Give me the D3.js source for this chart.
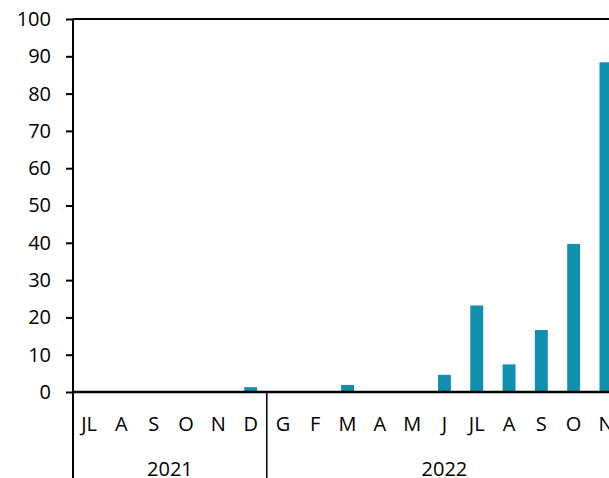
<!DOCTYPE html>
<html>
<head>
<meta charset="utf-8">
<script src="https://cdn.jsdelivr.net/npm/d3@7"></script>
<style>
  body { margin: 0; background: #fff; }
  svg { display: block; font-family: "Open Sans", "Noto Sans", sans-serif; }
</style>
</head>
<body>
<svg id="chart" width="609" height="478"></svg>
<script>
// monthly values, Jul 2021 .. Nov 2022
var months = ["JL", "A", "S", "O", "N", "D", "G", "F", "M", "A", "M", "J", "JL", "A", "S", "O", "N"];
var values = [0, 0, 0, 0, 0.2, 1.3, 0, 0, 1.9, 0, 0.2, 4.6, 23.2, 7.4, 16.6, 39.7, 88.4];
var years = [{ label: "2021", from: 0, to: 6 }, { label: "2022", from: 6, to: 17 }];
var yTicks = [0, 10, 20, 30, 40, 50, 60, 70, 80, 90, 100];

var svg = d3.select("#chart");
var plotLeft = 73, plotTop = 19, plotBottom = 392;
var step = 32.3;
var fontSize = 20;

var x = d3.scaleBand()
          .domain(d3.range(months.length))
          .range([plotLeft, plotLeft + step * months.length])
          .paddingInner(0.6)
          .paddingOuter(0.3);

var y = d3.scaleLinear().domain([0, 100]).range([plotBottom, plotTop]);

// bars
svg.append("g")
   .selectAll("rect")
   .data(values)
   .enter()
   .append("rect")
   .attr("x", function(d, i) { return x(i); })
   .attr("y", function(d) { return y(d); })
   .attr("width", x.bandwidth())
   .attr("height", function(d) { return y(0) - y(d); })
   .attr("fill", "#1190ae");

// y axis
var yAxis = svg.append("g")
               .attr("transform", "translate(" + plotLeft + ",0)")
               .call(d3.axisLeft(y).tickValues(yTicks).tickSize(7).tickPadding(15));
yAxis.attr("font-family", null).attr("font-size", fontSize);
yAxis.select(".domain").remove();
yAxis.selectAll("line").attr("stroke", "#000").attr("stroke-width", 2);
yAxis.selectAll("text").attr("fill", "#000");

// frame lines
svg.append("line").attr("x1", plotLeft).attr("x2", 609).attr("y1", y(100)).attr("y2", y(100))
   .attr("stroke", "#000").attr("stroke-width", 2);
svg.append("line").attr("x1", plotLeft).attr("x2", plotLeft).attr("y1", y(100)).attr("y2", 478)
   .attr("stroke", "#000").attr("stroke-width", 2);
svg.append("line").attr("x1", plotLeft).attr("x2", 609).attr("y1", y(0)).attr("y2", y(0))
   .attr("stroke", "#000").attr("stroke-width", 2.5);

// month labels
svg.append("g")
   .selectAll("text")
   .data(months)
   .enter()
   .append("text")
   .attr("x", function(d, i) { return x(i) + x.bandwidth() / 2; })
   .attr("y", 431)
   .attr("text-anchor", "middle")
   .attr("font-size", fontSize)
   .text(function(d) { return d; });

// year separators and labels
var bandStart = function(i) { return plotLeft + step * i; };
svg.selectAll(".sep")
   .data(years.slice(1))
   .enter()
   .append("line")
   .attr("class", "sep")
   .attr("x1", function(d) { return bandStart(d.from); })
   .attr("x2", function(d) { return bandStart(d.from); })
   .attr("y1", y(0))
   .attr("y2", 478)
   .attr("stroke", "#000")
   .attr("stroke-width", 1.5);

svg.selectAll(".year")
   .data(years)
   .enter()
   .append("text")
   .attr("class", "year")
   .attr("x", function(d) { return (bandStart(d.from) + bandStart(d.to)) / 2; })
   .attr("y", 476)
   .attr("text-anchor", "middle")
   .attr("font-size", fontSize)
   .text(function(d) { return d.label; });
</script>
</body>
</html>
